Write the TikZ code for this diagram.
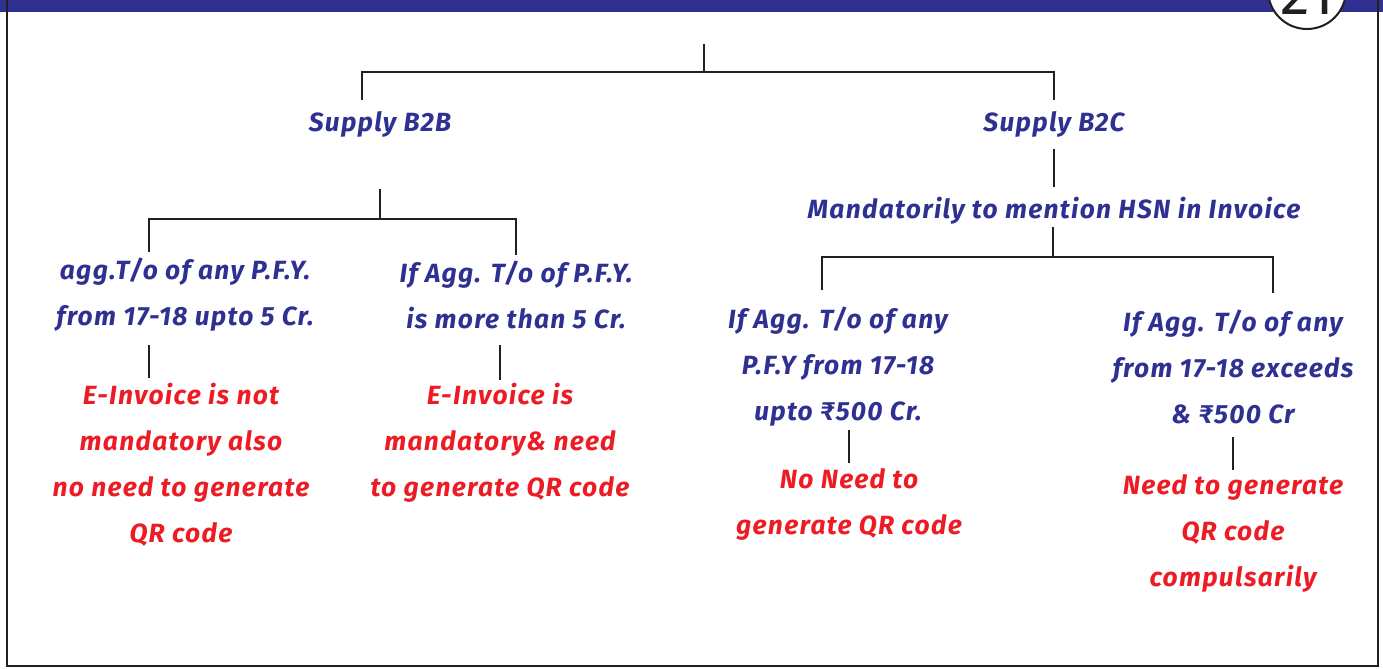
\documentclass[tikz,border=0pt]{standalone}
\usepackage{fontspec}
\setmainfont{Fira Sans}
\usepackage{xcolor}
\usepackage{tikz}
\usetikzlibrary{calc,positioning}
\definecolor{band}{HTML}{2E3192}
\definecolor{ink}{HTML}{2E3192}
\definecolor{alert}{HTML}{ED1C24}
\definecolor{rule}{HTML}{231F20}

\begin{document}
\begin{tikzpicture}[x=0.02cm,y=-0.02cm,
  every node/.style={align=center,inner sep=0pt,font=\fontsize{15}{26.2}\selectfont\addfontfeature{LetterSpace=5}\bfseries\itshape},
  q/.style={text=ink}, ans/.style={text=alert},
  e/.style={draw=rule,line width=1.15pt}]
  \useasboundingbox (0,0) rectangle (1383,669);
  % frame and header band
  \fill[band] (0,0) rectangle (1383,12);
  \draw[e] (7,0) -- (7,666) -- (1378,666) -- (1378,0);
  \draw[e,fill=white] (1307,-10) circle (39);
  \node[font=\fontsize{34}{34}\selectfont,text=rule] (pg) at (1307,-6) {21};
  % nodes
  \node[q] (b2b) at (380,124) {Supply B2B};
  \node[q] (b2c) at (1054,124) {Supply B2C};
  \node[q] (hsn) at (1054,211) {Mandatorily to mention HSN in Invoice};
  \node[q] (aggupto) at (185,295) {agg.T/o of any P.F.Y.\\from 17-18 upto 5 Cr.};
  \node[q] (aggmore) at (516,295) {If Agg. T/o of P.F.Y.\\is more than 5 Cr.};
  \node[ans] (einot) at (181,465) {E-Invoice is not\\mandatory also\\no need to generate\\QR code};
  \node[ans] (eimand) at (500,443) {E-Invoice is\\mandatory\& need\\to generate QR code};
  \node[q] (b2clow) at (838,367) {If Agg. T/o of any\\P.F.Y from 17-18\\upto ₹500 Cr.};
  \node[q] (b2chigh) at (1233,367) {If Agg. T/o of any\\from 17-18 exceeds\\\& ₹500 Cr};
  \node[ans] (noqr) at (849,504) {No Need to\\generate QR code};
  \node[ans] (needqr) at (1233,533) {Need to generate\\QR code\\compulsarily};
  % line ends
  \coordinate (top) at (704,44); \coordinate (bus1) at (704,72);
  \coordinate (b2b-in) at (362,100); \coordinate (b2c-in) at (1054,100);
  \coordinate (b2b-out) at (380,189); \coordinate (bus2) at (380,219);
  \coordinate (aggupto-in) at (149,252); \coordinate (aggmore-in) at (516,255);
  \coordinate (aggupto-out) at (149,345); \coordinate (einot-in) at (149,378);
  \coordinate (aggmore-out) at (500,345); \coordinate (eimand-in) at (500,380);
  \coordinate (b2c-out) at (1054,149); \coordinate (hsn-in) at (1054,187);
  \coordinate (hsn-out) at (1053,227); \coordinate (bus3) at (1053,257);
  \coordinate (b2clow-in) at (822,290); \coordinate (b2chigh-in) at (1273,293);
  \coordinate (b2clow-out) at (849,430); \coordinate (noqr-in) at (849,463);
  \coordinate (b2chigh-out) at (1233,437); \coordinate (needqr-in) at (1233,470);
  % connectors
  \draw[e] (top) -- (bus1); \draw[e] (b2b-in) |- (bus1) -| (b2c-in);
  \draw[e] (b2b-out) -- (bus2); \draw[e] (aggupto-in) |- (bus2) -| (aggmore-in);
  \draw[e] (aggupto-out) -- (einot-in); \draw[e] (aggmore-out) -- (eimand-in);
  \draw[e] (b2c-out) -- (hsn-in); \draw[e] (hsn-out) -- (bus3);
  \draw[e] (b2clow-in) |- (bus3) -| (b2chigh-in);
  \draw[e] (b2clow-out) -- (noqr-in); \draw[e] (b2chigh-out) -- (needqr-in);
\end{tikzpicture}
\end{document}
